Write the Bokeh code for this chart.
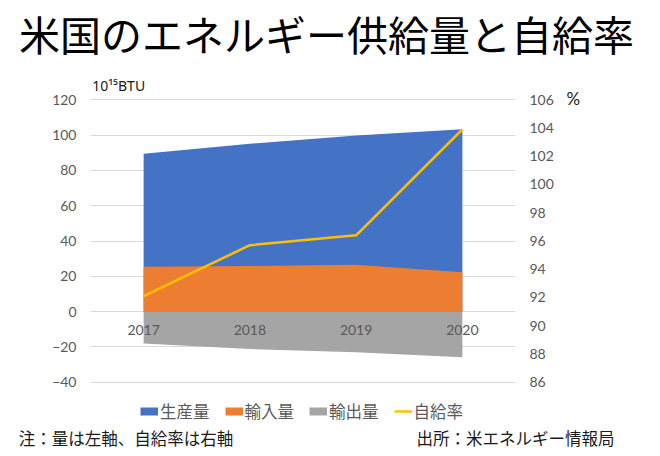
from bokeh.plotting import figure
from bokeh.layouts import column, row
from bokeh.models import (Range1d, FactorRange, LinearAxis, FixedTicker, Label,
                          Legend, LegendItem)
from bokeh.embed import file_html
from bokeh.resources import INLINE

# ---- data ----
years = ["2017", "2018", "2019", "2020"]
production = [89.4, 95.1, 99.8, 103.4]        # 生産量 (10^15 BTU)
imports = [25.5, 25.9, 26.6, 22.3]            # 輸入量
exports = [-18.0, -21.2, -23.0, -25.9]        # 輸出量 (plotted below zero)
self_sufficiency = [92.1, 95.7, 96.4, 103.9]  # 自給率 (%)
left_ticks = [-40, -20, 0, 20, 40, 60, 80, 100, 120]
right_ticks = [86, 88, 90, 92, 94, 96, 98, 100, 102, 104, 106]

BLUE = "#4472C4"
ORANGE = "#ED7D31"
GREY = "#A5A5A5"
YELLOW = "#FFC000"
TICK = "#595959"
TXT = "#1a1a1a"
CJK = "Noto Sans CJK JP"
NUM = "Lato"


def blank(w, h):
    f = figure(width=w, height=h, x_range=Range1d(0, w), y_range=Range1d(0, h),
               output_backend="svg", toolbar_location=None,
               x_axis_location=None, y_axis_location=None,
               min_border=0, min_border_left=0, min_border_right=0,
               min_border_top=0, min_border_bottom=0)
    f.outline_line_color = None
    f.grid.visible = False
    return f


# ---- title strip ----
top = blank(644, 75)
top.add_layout(Label(x=326, y=43, text="米国のエネルギー供給量と自給率",
                     text_align="center", text_baseline="middle", text_font=CJK,
                     text_font_size="41px", text_color="#000000"))

# ---- main chart ----
p = figure(width=560, height=350, x_range=FactorRange(*years),
           y_range=Range1d(-64.5, 133.8), output_backend="svg",
           toolbar_location=None, min_border_left=90, min_border_right=45,
           min_border_top=0, min_border_bottom=0)
p.outline_line_color = None
p.xgrid.grid_line_color = None
p.ygrid.grid_line_color = "#D9D9D9"
p.ygrid.grid_line_width = 1
p.ygrid.ticker = FixedTicker(ticks=left_ticks)

def style_axis(ax, standoff):
    ax.axis_line_color = None
    ax.major_tick_line_color = None
    ax.minor_tick_line_color = None
    ax.major_tick_out = 0
    ax.major_tick_in = 0
    ax.minor_tick_out = 0
    ax.major_label_standoff = standoff
    ax.major_label_text_font = NUM
    ax.major_label_text_font_size = "14px"
    ax.major_label_text_color = TICK

yax = p.yaxis[0]
yax.ticker = FixedTicker(ticks=left_ticks)
style_axis(yax, 14)

xax = p.xaxis[0]
xax.fixed_location = 0
style_axis(xax, 13)

p.extra_y_ranges = {"pct": Range1d(82.93, 107.72)}
rax = LinearAxis(y_range_name="pct", ticker=FixedTicker(ticks=right_ticks))
style_axis(rax, 14)
p.add_layout(rax, "right")

p.varea(x=years, y1=0, y2=production, fill_color=BLUE)
p.varea(x=years, y1=0, y2=imports, fill_color=ORANGE)
p.varea(x=years, y1=exports, y2=0, fill_color=GREY)
p.line(x=years, y=self_sufficiency, y_range_name="pct", line_color=YELLOW,
       line_width=2.5)

# legend swatches (hidden renderers, only drawn in the legend)
lb = p.line(x=years, y=production, line_color=BLUE, line_width=8, line_cap="butt", visible=False)
lo = p.line(x=years, y=imports, line_color=ORANGE, line_width=8, line_cap="butt", visible=False)
lg = p.line(x=years, y=exports, line_color=GREY, line_width=8, line_cap="butt", visible=False)
ly = p.line(x=years, y=self_sufficiency, y_range_name="pct", line_color=YELLOW,
            line_width=2.5, visible=False)

legend = Legend(items=[LegendItem(label="生産量", renderers=[lb]),
                       LegendItem(label="輸入量", renderers=[lo]),
                       LegendItem(label="輸出量", renderers=[lg]),
                       LegendItem(label="自給率", renderers=[ly])],
                location=(50, 2), orientation="horizontal", padding=0, margin=0,
                spacing=15, glyph_width=18, glyph_height=24, label_height=24,
                label_standoff=2, border_line_color=None, background_fill_alpha=0,
                label_text_font=CJK, label_text_font_size="16.5px",
                label_text_color=TICK)
p.add_layout(legend)

p.add_layout(Label(x=1.7, y=340, x_units="screen", y_units="screen",
                   text="10¹⁵BTU", text_align="left", text_baseline="middle",
                   text_font="Noto Sans", text_font_size="14px", text_color=TXT))

# ---- "%" unit at the right ----
side = blank(84, 350)
side.add_layout(Label(x=6, y=326.7, text="%", text_align="left",
                      text_baseline="middle", text_font=NUM,
                      text_font_size="17px", text_color=TXT))

# ---- notes strip ----
bottom = blank(644, 25)
bottom.add_layout(Label(x=18.3, y=12.7, text="注：量は左軸、自給率は右軸",
                        text_align="left", text_baseline="middle", text_font=CJK,
                        text_font_size="16.5px", text_color=TXT))
bottom.add_layout(Label(x=416, y=12.7, text="出所：米エネルギー情報局",
                        text_align="left", text_baseline="middle", text_font=CJK,
                        text_font_size="16.5px", text_color=TXT))

layout = column(top, row(p, side), bottom)
open("out.html", "w").write(file_html(layout, INLINE))
